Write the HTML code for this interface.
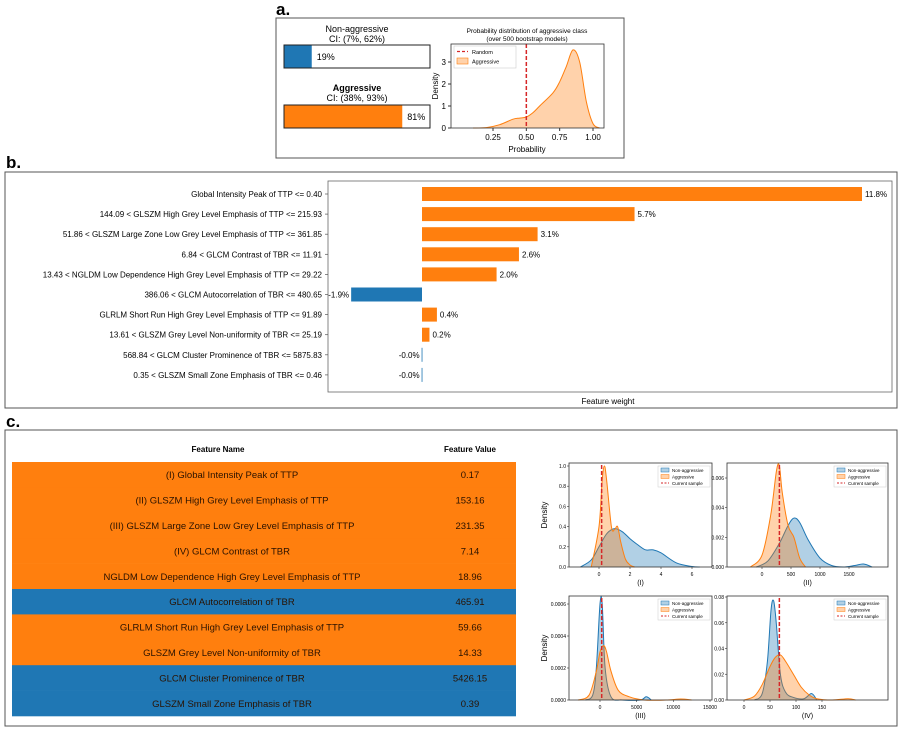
<!DOCTYPE html>
<html><head><meta charset="utf-8">
<style>
html,body{margin:0;padding:0;background:#fff;}
svg{display:block;font-family:"Liberation Sans","DejaVu Sans",sans-serif;}
</style></head>
<body>
<svg id="fig" width="900" height="733" viewBox="0 0 900 733" xmlns="http://www.w3.org/2000/svg">
  <!-- panel a -->
  <text x="276" y="15" font-size="17" font-weight="bold">a.</text>
  <rect x="276" y="18" width="348" height="140" fill="#fff" stroke="#555" stroke-width="1"/>
  <text x="357" y="32" font-size="9" text-anchor="middle">Non-aggressive</text>
  <text x="357" y="42" font-size="9" text-anchor="middle">CI: (7%, 62%)</text>
  <g id="probBars"></g>
  <text x="357" y="91" font-size="9" font-weight="bold" text-anchor="middle">Aggressive</text>
  <text x="357" y="101" font-size="9" text-anchor="middle">CI: (38%, 93%)</text>
  <text x="527" y="33" font-size="6.5" text-anchor="middle">Probability distribution of aggressive class</text>
  <text x="527" y="41" font-size="6.5" text-anchor="middle">(over 500 bootstrap models)</text>
  <g id="aDens"></g>

  <!-- panel b -->
  <text x="6" y="168" font-size="17" font-weight="bold">b.</text>
  <rect x="5" y="172" width="892" height="236" fill="#fff" stroke="#555" stroke-width="1"/>
  <g id="bChart"></g>

  <!-- panel c -->
  <text x="6" y="427" font-size="17" font-weight="bold">c.</text>
  <rect x="5" y="430" width="892" height="296" fill="#fff" stroke="#555" stroke-width="1"/>
  <g id="cTable"></g>
  <g id="cDens"></g>
</svg>
<script>
const NS="http://www.w3.org/2000/svg";
const ORANGE="#ff7f0e", BLUE="#1f77b4";
function el(tag,attrs,parent,txt){const e=document.createElementNS(NS,tag);for(const k in attrs)e.setAttribute(k,attrs[k]);if(txt!==undefined)e.textContent=txt;parent.appendChild(e);return e;}

// ---------- data ----------
const classNames=["Non-aggressive","Aggressive"];
const classProbs=[19,81];

const aProbX=[0.1,0.2,0.3,0.4,0.45,0.5,0.55,0.6,0.7,0.75,0.8,0.85,0.9,0.95,1.0,1.05];
const aProbD=[0,0.02,0.15,0.4,0.45,0.5,0.7,1.0,1.6,2.1,2.8,3.55,3.0,1.2,0.2,0];
const aXTicks=[0.25,0.5,0.75,1.0];
const aXTickLabels=["0.25","0.50","0.75","1.00"];
const aYTicks=[0,1,2,3];
const aRandom=0.5;

const featureLabels=["Global Intensity Peak of TTP <= 0.40","144.09 < GLSZM High Grey Level Emphasis of TTP <= 215.93","51.86 < GLSZM Large Zone Low Grey Level Emphasis of TTP <= 361.85","6.84 < GLCM Contrast of TBR <= 11.91","13.43 < NGLDM Low Dependence High Grey Level Emphasis of TTP <= 29.22","386.06 < GLCM Autocorrelation of TBR <= 480.65","GLRLM Short Run High Grey Level Emphasis of TTP <= 91.89","13.61 < GLSZM Grey Level Non-uniformity of TBR <= 25.19","568.84 < GLCM Cluster Prominence of TBR <= 5875.83","0.35 < GLSZM Small Zone Emphasis of TBR <= 0.46"];
const featureWeights=[11.8,5.7,3.1,2.6,2.0,-1.9,0.4,0.2,-0.01,-0.01];
const featureWeightLabels=["11.8%","5.7%","3.1%","2.6%","2.0%","-1.9%","0.4%","0.2%","-0.0%","-0.0%"];

const tableNames=["(I) Global Intensity Peak of TTP","(II) GLSZM High Grey Level Emphasis of TTP","(III) GLSZM Large Zone Low Grey Level Emphasis of TTP","(IV) GLCM Contrast of TBR","NGLDM Low Dependence High Grey Level Emphasis of TTP","GLCM Autocorrelation of TBR","GLRLM Short Run High Grey Level Emphasis of TTP","GLSZM Grey Level Non-uniformity of TBR","GLCM Cluster Prominence of TBR","GLSZM Small Zone Emphasis of TBR"];
const tableValues=["0.17","153.16","231.35","7.14","18.96","465.91","59.66","14.33","5426.15","0.39"];
const tableClass=[1,1,1,1,1,0,1,1,0,0];

const d1NonX=[-1.2,-0.5,0,0.5,1,1.5,2,2.5,3,3.5,4,5,6,6.5];
const d1NonD=[0,0.07,0.2,0.33,0.38,0.35,0.28,0.22,0.17,0.17,0.14,0.04,0.005,0];
const d1AggX=[-0.5,0,0.2,0.35,0.5,0.8,1.0,1.2,1.4,1.7,2,2.3];
const d1AggD=[0,0.4,0.85,1.0,0.85,0.4,0.37,0.40,0.25,0.08,0.02,0];
const d1Cur=0.17, d1XT=[0,2,4,6], d1YT=[0,0.2,0.4,0.6,0.8,1.0], d1YL=["0.0","0.2","0.4","0.6","0.8","1.0"];

const d2NonX=[-100,100,300,450,550,650,800,1000,1200,1400,1600,1750,1900];
const d2NonD=[0,0.0004,0.0016,0.0028,0.0033,0.003,0.0018,0.0006,0.0001,0,0.0001,0.0002,0];
const d2AggX=[-200,0,150,250,300,350,450,550,650,750];
const d2AggD=[0,0.0008,0.0035,0.0065,0.0068,0.005,0.0028,0.002,0.0006,0];
const d2Cur=300, d2XT=[0,500,1000,1500], d2YT=[0,0.002,0.004,0.006], d2YL=["0.000","0.002","0.004","0.006"];

const d3NonX=[-2000,-1000,-500,0,300,700,1500,3000,5500,6300,7000];
const d3NonD=[0,0.00003,0.0002,0.0006,0.0006,0.0002,0.00002,0,0,0.00002,0];
const d3AggX=[-3000,-1500,-500,0,500,900,1500,2500,4000,6000,9000,11000,12500];
const d3AggD=[0,0.00003,0.00018,0.0003,0.00034,0.0003,0.00018,0.00006,0.00002,0,0,0.000006,0];
const d3Cur=231, d3XT=[0,5000,10000,15000], d3YT=[0,0.0002,0.0004,0.0006], d3YL=["0.0000","0.0002","0.0004","0.0006"];

const d4NonX=[20,35,45,52,57,62,70,80,95,115,130,140];
const d4NonD=[0,0.005,0.03,0.07,0.077,0.06,0.02,0.006,0.002,0.001,0.005,0];
const d4AggX=[0,20,35,50,60,70,80,95,110,125,140,170,200,215];
const d4AggD=[0,0.003,0.012,0.026,0.033,0.035,0.03,0.02,0.01,0.004,0.001,0,0.001,0];
const d4Cur=68, d4XT=[0,50,100,150], d4YT=[0,0.02,0.04,0.06,0.08], d4YL=["0.00","0.02","0.04","0.06","0.08"];

// ---------- helpers ----------
function lin(d0,d1,r0,r1){return v=>r0+(v-d0)*(r1-r0)/(d1-d0);}
function smoothPath(pts){
  let d="M"+pts[0][0]+","+pts[0][1];
  for(let i=0;i<pts.length-1;i++){
    const p0=pts[Math.max(0,i-1)],p1=pts[i],p2=pts[i+1],p3=pts[Math.min(pts.length-1,i+2)];
    const c1x=p1[0]+(p2[0]-p0[0])/6,c1y=p1[1]+(p2[1]-p0[1])/6;
    const c2x=p2[0]-(p3[0]-p1[0])/6,c2y=p2[1]-(p3[1]-p1[1])/6;
    d+=" C"+c1x+","+Math.min(c1y,9999)+" "+c2x+","+c2y+" "+p2[0]+","+p2[1];
  }
  return d;
}
function densityArea(g,xs,ds,sx,sy,y0,color,name){
  const pts=xs.map((x,i)=>[sx(x),Math.min(y0,sy(ds[i]))]);
  const line=smoothPath(pts);
  const a=el("path",{d:line+" L"+pts[pts.length-1][0]+","+y0+" L"+pts[0][0]+","+y0+" Z",fill:color,"fill-opacity":"0.35",stroke:"none"},g);
  
  
  const l=el("path",{d:line,fill:"none",stroke:color,"stroke-width":"1"},g);
  
  
}

// ---------- panel a bars ----------
(function(){
  const g=document.getElementById("probBars");
  const bx=284,bw=146,ys=[45,105],cols=[BLUE,ORANGE];
  classProbs.forEach((p,i)=>{
    const f=el("rect",{x:bx,y:ys[i],width:bw*p/100,height:23,fill:cols[i]},g);
    
    
    const o=el("rect",{x:bx,y:ys[i],width:bw,height:23,fill:"none",stroke:"#222","stroke-width":"1"},g);
    
    
    const t=el("text",{x:bx+bw*p/100+5,y:ys[i]+15,"font-size":"9"},g,p+"%");
    
    
  });
})();

// ---------- panel a density ----------
(function(){
  const g=document.getElementById("aDens");
  const L=451,R=604,T=44,B=128;
  const sx=lin(0.25,1.0,493,593), sy=lin(0,3,128,62);
  densityArea(g,aProbX,aProbD,sx,sy,B,ORANGE,"aggressive-density");
  const r=el("line",{x1:sx(aRandom),x2:sx(aRandom),y1:T,y2:B,stroke:"#d62728","stroke-width":"1.5","stroke-dasharray":"4,2"},g);
  
  
  el("rect",{x:L,y:T,width:R-L,height:B-T,fill:"none",stroke:"#333","stroke-width":"0.8"},g);
  aXTicks.forEach((v,i)=>{
    el("line",{x1:sx(v),x2:sx(v),y1:B,y2:B+3,stroke:"#333"},g);
    const t=el("text",{x:sx(v),y:B+12,"font-size":"8","text-anchor":"middle"},g,aXTickLabels[i]);
    
    
  });
  aYTicks.forEach(v=>{
    el("line",{x1:L-3,x2:L,y1:sy(v),y2:sy(v),stroke:"#333"},g);
    const t=el("text",{x:L-5,y:sy(v)+3,"font-size":"8","text-anchor":"end"},g,String(v));
    
    
  });
  const xl=el("text",{x:527,y:152,"font-size":"8","text-anchor":"middle"},g,"Probability");
  
  
  const yl=el("text",{x:0,y:0,"font-size":"8","text-anchor":"middle",transform:"translate(438,86) rotate(-90)"},g,"Density");
  
  
  // legend
  const lg=el("g",{},g);
  
  
  el("rect",{x:454,y:46,width:62,height:22,fill:"#fff",stroke:"#ccc","stroke-width":"0.6"},lg);
  el("line",{x1:457,x2:468,y1:51.5,y2:51.5,stroke:"#d62728","stroke-width":"1.3","stroke-dasharray":"3,2"},lg);
  el("text",{x:472,y:54,"font-size":"5.5"},lg,"Random");
  el("rect",{x:457,y:58,width:11,height:6,fill:ORANGE,"fill-opacity":"0.35",stroke:ORANGE,"stroke-width":"0.6"},lg);
  el("text",{x:472,y:63.5,"font-size":"5.5"},lg,"Aggressive");
})();

// ---------- panel b ----------
(function(){
  const g=document.getElementById("bChart");
  const L=328,R=892,T=181,B=392;
  el("rect",{x:L,y:T,width:R-L,height:B-T,fill:"none",stroke:"#666","stroke-width":"0.8"},g);
  const sx=lin(0,11.8,422,862);
  const rowY=i=>194+i*20.1;
  featureWeights.forEach((w,i)=>{
    const x0=sx(Math.min(0,w)),x1=sx(Math.max(0,w));
    const b=el("rect",{x:x0,y:rowY(i)-7,width:Math.max(0.8,x1-x0),height:14,fill:w<0?BLUE:ORANGE},g);
    
    
    const v=el("text",{x:w<0?x0-2:x1+3,y:rowY(i)+3,"font-size":"8","text-anchor":w<0?"end":"start"},g,featureWeightLabels[i]);
    
    
    el("line",{x1:L-3,x2:L,y1:rowY(i),y2:rowY(i),stroke:"#555","stroke-width":"0.7"},g);
    const t=el("text",{x:L-6,y:rowY(i)+3,"font-size":"8","text-anchor":"end"},g,featureLabels[i]);
    
    
  });
  const xl=el("text",{x:608,y:404,"font-size":"8","text-anchor":"middle"},g,"Feature weight");
  
  
})();

// ---------- panel c table ----------
(function(){
  const g=document.getElementById("cTable");
  const h1=el("text",{x:218,y:452,"font-size":"8","font-weight":"bold","text-anchor":"middle"},g,"Feature Name");
  
  
  const h2=el("text",{x:470,y:452,"font-size":"8","font-weight":"bold","text-anchor":"middle"},g,"Feature Value");
  
  
  const top=462,rh=25.4;
  tableNames.forEach((n,i)=>{
    const r=el("rect",{x:12,y:top+i*rh,width:504,height:rh+0.3,fill:tableClass[i]?ORANGE:BLUE},g);
    
    
    const cy=top+i*rh+rh/2+3.5;
    const tn=el("text",{x:232,y:cy,"font-size":"9.5","text-anchor":"middle",fill:"#2a1200"},g,n);
    
    
    const tv=el("text",{x:470,y:cy,"font-size":"9.5","text-anchor":"middle",fill:"#2a1200"},g,tableValues[i]);
    
    
  });
})();

// ---------- panel c densities ----------
(function(){
  const g=document.getElementById("cDens");
  const plots=[
    {L:569,R:712,T:463,B:567,sx:lin(0,6,599,692),sy:lin(0,1.0,567,466),nx:d1NonX,nd:d1NonD,ax:d1AggX,ad:d1AggD,cur:d1Cur,xt:d1XT,yt:d1YT,yl:d1YL,lab:"(I)",dens:true},
    {L:727,R:888,T:463,B:567,sx:lin(0,1500,762,849),sy:lin(0,0.006,567,478),nx:d2NonX,nd:d2NonD,ax:d2AggX,ad:d2AggD,cur:d2Cur,xt:d2XT,yt:d2YT,yl:d2YL,lab:"(II)",dens:false},
    {L:569,R:712,T:596,B:700,sx:lin(0,15000,600,710),sy:lin(0,0.0006,700,604),nx:d3NonX,nd:d3NonD,ax:d3AggX,ad:d3AggD,cur:d3Cur,xt:d3XT,yt:d3YT,yl:d3YL,lab:"(III)",dens:true},
    {L:727,R:888,T:596,B:700,sx:lin(0,150,744,822),sy:lin(0,0.08,700,597),nx:d4NonX,nd:d4NonD,ax:d4AggX,ad:d4AggD,cur:d4Cur,xt:d4XT,yt:d4YT,yl:d4YL,lab:"(IV)",dens:false}
  ];
  plots.forEach((p,k)=>{
    const pg=el("g",{},g);
    
    
    densityArea(pg,p.nx,p.nd,p.sx,p.sy,p.B,BLUE,"non-aggressive-density");
    densityArea(pg,p.ax,p.ad,p.sx,p.sy,p.B,ORANGE,"aggressive-density");
    const c=el("line",{x1:p.sx(p.cur),x2:p.sx(p.cur),y1:p.T+2,y2:p.B,stroke:"#d62728","stroke-width":"1.5","stroke-dasharray":"4,2"},pg);
    
    
    el("rect",{x:p.L,y:p.T,width:p.R-p.L,height:p.B-p.T,fill:"none",stroke:"#333","stroke-width":"0.8"},pg);
    p.xt.forEach(v=>{
      el("line",{x1:p.sx(v),x2:p.sx(v),y1:p.B,y2:p.B+2,stroke:"#333","stroke-width":"0.6"},pg);
      const t=el("text",{x:p.sx(v),y:p.B+9,"font-size":"5","text-anchor":"middle"},pg,String(v));
      
      
    });
    p.yt.forEach((v,i)=>{
      el("line",{x1:p.L-2,x2:p.L,y1:p.sy(v),y2:p.sy(v),stroke:"#333","stroke-width":"0.6"},pg);
      const t=el("text",{x:p.L-3,y:p.sy(v)+2,"font-size":"5","text-anchor":"end"},pg,p.yl[i]);
      
      
    });
    const xl=el("text",{x:(p.L+p.R)/2,y:p.B+18,"font-size":"7","text-anchor":"middle"},pg,p.lab);
    
    
    if(p.dens){
      const yl=el("text",{x:0,y:0,"font-size":"8","text-anchor":"middle",transform:"translate("+(p.L-22)+","+((p.T+p.B)/2)+") rotate(-90)"},pg,"Density");
      
      
    }
    const lx=p.R-54,ly=p.T+3;
    const lg=el("g",{},pg);
    
    
    el("rect",{x:lx,y:ly,width:52,height:21,fill:"#fff","fill-opacity":"0.8",stroke:"#ccc","stroke-width":"0.5"},lg);
    el("rect",{x:lx+3,y:ly+2,width:8,height:4,fill:BLUE,"fill-opacity":"0.35",stroke:BLUE,"stroke-width":"0.5"},lg);
    el("text",{x:lx+14,y:ly+6,"font-size":"4.5"},lg,"Non-aggressive");
    el("rect",{x:lx+3,y:ly+8.5,width:8,height:4,fill:ORANGE,"fill-opacity":"0.35",stroke:ORANGE,"stroke-width":"0.5"},lg);
    el("text",{x:lx+14,y:ly+12.5,"font-size":"4.5"},lg,"Aggressive");
    el("line",{x1:lx+3,x2:lx+11,y1:ly+17,y2:ly+17,stroke:"#d62728","stroke-width":"1","stroke-dasharray":"2,1.5"},lg);
    el("text",{x:lx+14,y:ly+19,"font-size":"4.5"},lg,"Current sample");
  });
})();
</script>
</body></html>
